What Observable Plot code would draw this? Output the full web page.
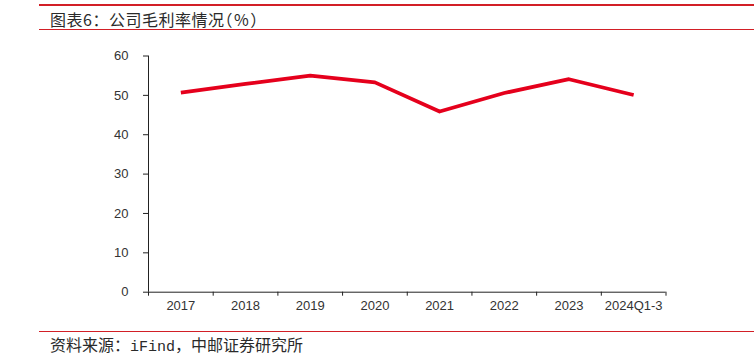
<!DOCTYPE html>
<html><head><meta charset="utf-8">
<script src="https://cdn.jsdelivr.net/npm/d3@7"></script>
<script src="https://cdn.jsdelivr.net/npm/@observablehq/plot@0.6"></script>
<style>
html,body{margin:0;padding:0;background:#fff;}
#wrap{position:relative;width:754px;height:356px;overflow:hidden;font-family:"Noto Sans CJK SC",sans-serif;}
.rule{position:absolute;left:39px;right:0;background:#d21f26;}
.txt{position:absolute;left:50px;font-size:16px;color:#2a2a2a;line-height:1;white-space:nowrap;}
.halt{font-feature-settings:"halt";letter-spacing:1.5px;}
.mono{font-family:"Liberation Mono",monospace;font-size:15px;}
#chart{position:absolute;left:0;top:40px;}
</style></head>
<body><div id="wrap">
<div class="rule" style="top:4px;height:2px"></div>
<div class="txt" style="top:11px;letter-spacing:0.5px">图表6：公司毛利率情况<span class="halt">（%）</span></div>
<div class="rule" style="top:29px;height:1px"></div>
<div id="chart"></div>
<div class="rule" style="top:331px;height:1px"></div>
<div class="txt" style="top:336px">资料来源：<span class="mono">iFind</span>，中邮证券研究所</div>
</div>
<script>
const categories = ["2017","2018","2019","2020","2021","2022","2023","2024Q1-3"];
const grossMargin = [50.7, 52.9, 55.0, 53.3, 45.9, 50.6, 54.1, 50.1];
const yTicks = [0,10,20,30,40,50,60];

const data = categories.map((c,i)=>({i:i+0.5, cat:c, v:grossMargin[i]}));
const boundaries = d3.range(categories.length+1);
const font = "'Liberation Sans',Arial,sans-serif";

const chart = Plot.plot({
  width:754, height:290,
  marginLeft:148, marginRight:88.5, marginTop:15.5, marginBottom:38.3,
  style:{fontFamily:font, fontSize:"13px", color:"#333", background:"transparent"},
  x:{type:"linear", domain:[0,categories.length]},
  y:{domain:[0,60]},
  marks:[
    Plot.axisY({ticks:yTicks, tickSize:5, tickPadding:15, label:null, stroke:"#222", fill:"#333"}),
    Plot.axisX({ticks:boundaries, tickFormat:()=>"", tickSize:4, label:null, stroke:"#222"}),
    Plot.axisX({ticks:data.map(d=>d.i), tickFormat:(t)=>categories[Math.floor(t)], tickSize:0, tickPadding:9, label:null, fill:"#333"}),
    Plot.ruleX([0],{stroke:"#222"}),
    Plot.ruleY([0],{stroke:"#222"}),
    Plot.line(data,{x:"i", y:"v", stroke:"#e5001c", strokeWidth:3.8, strokeLinejoin:"round", strokeLinecap:"butt"})
  ]
});
document.getElementById("chart").appendChild(chart);
</script>
</body></html>
